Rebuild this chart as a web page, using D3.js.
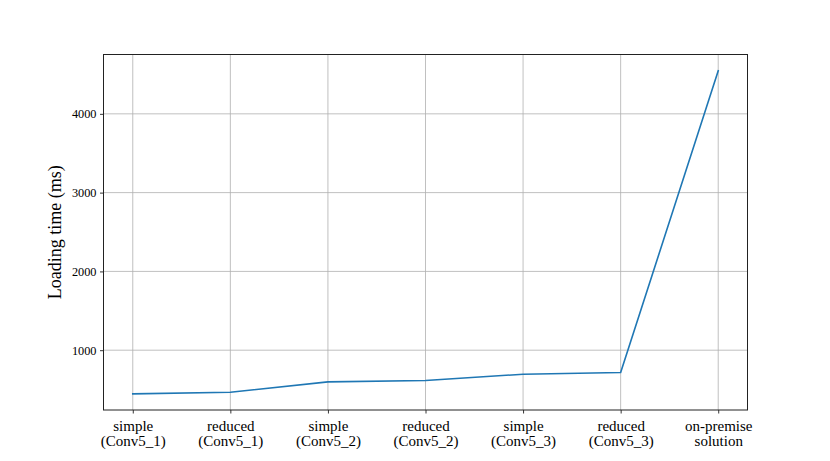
<!DOCTYPE html>
<html>
<head>
<meta charset="utf-8">
<style>
  body { margin: 0; background: #fff; }
  svg { display: block; font-family: "Liberation Serif", "DejaVu Serif", serif; }
</style>
</head>
<body>
<script src="https://d3js.org/d3.v7.min.js"></script>
<script>
var width = 830, height = 461;

// data
var categories = [
  ["simple", "(Conv5_1)"],
  ["reduced", "(Conv5_1)"],
  ["simple", "(Conv5_2)"],
  ["reduced", "(Conv5_2)"],
  ["simple", "(Conv5_3)"],
  ["reduced", "(Conv5_3)"],
  ["on-premise", "solution"]
];
var loadingTime = [446, 467, 598, 615, 695, 716, 4548];
var yTicks = [1000, 2000, 3000, 4000];

var margin = {left: 103.5, right: 830 - 747.5, top: 54.5, bottom: 461 - 410};
var pw = width - margin.left - margin.right;
var ph = height - margin.top - margin.bottom;

var svg = d3.select("body").append("svg")
  .attr("width", width)
  .attr("height", height);

var g = svg.append("g").attr("transform", "translate(" + margin.left + "," + margin.top + ")");

// matplotlib style 5% padding
var n = categories.length;
var x = d3.scaleLinear()
  .domain([-0.3, n - 1 + 0.3])
  .range([0, pw]);
var ymin = d3.min(loadingTime), ymax = d3.max(loadingTime);
var pad = (ymax - ymin) * 0.05;
var y = d3.scaleLinear()
  .domain([ymin - pad, ymax + pad])
  .range([ph, 0]);

// grid
g.append("g").selectAll("line").data(d3.range(n)).enter().append("line")
  .attr("x1", function(d){ return x(d); })
  .attr("x2", function(d){ return x(d); })
  .attr("y1", 0).attr("y2", ph)
  .attr("stroke", "#b0b0b0").attr("stroke-width", 0.8);
g.append("g").selectAll("line").data(yTicks).enter().append("line")
  .attr("y1", function(d){ return y(d); })
  .attr("y2", function(d){ return y(d); })
  .attr("x1", 0).attr("x2", pw)
  .attr("stroke", "#b0b0b0").attr("stroke-width", 0.8);

// line
var line = d3.line()
  .x(function(d, i){ return x(i); })
  .y(function(d){ return y(d); });
g.append("path")
  .datum(loadingTime)
  .attr("d", line)
  .attr("fill", "none")
  .attr("stroke", "#1f77b4")
  .attr("stroke-width", 1.6)
  .attr("stroke-linejoin", "round")
  .attr("stroke-linecap", "square");

// axes
var yAxis = d3.axisLeft(y).tickValues(yTicks).tickSize(3.5).tickPadding(3.5).tickFormat(d3.format("d"));
var ya = g.append("g").call(yAxis);
ya.select(".domain").remove();
ya.selectAll("line").attr("stroke", "#000").attr("stroke-width", 0.8);
ya.selectAll("text").attr("font-size", "12.3px").attr("font-family", "Liberation Serif").attr("fill", "#000");

var xAxis = d3.axisBottom(x).tickValues(d3.range(n)).tickSize(3.5).tickFormat("");
var xa = g.append("g").attr("transform", "translate(0," + ph + ")").call(xAxis);
xa.select(".domain").remove();
xa.selectAll("line").attr("stroke", "#000").attr("stroke-width", 0.8);
xa.selectAll(".tick").each(function(d){
  var t = d3.select(this).append("text")
    .attr("fill", "#000")
    .attr("font-size", "15px")
    .attr("font-family", "Liberation Serif")
    .attr("text-anchor", "middle");
  t.append("tspan").attr("x", 0).attr("y", 20.5).text(categories[d][0]);
  t.append("tspan").attr("x", 0).attr("y", 36).text(categories[d][1]);
});

// frame
g.append("rect")
  .attr("x", 0).attr("y", 0)
  .attr("width", pw).attr("height", ph)
  .attr("fill", "none")
  .attr("stroke", "#222")
  .attr("stroke-width", 1);

// y label
svg.append("text")
  .attr("transform", "translate(61," + (margin.top + ph / 2) + ") rotate(-90)")
  .attr("text-anchor", "middle")
  .attr("font-size", "18px")
  .attr("fill", "#000")
  .text("Loading time (ms)");
</script>
</body>
</html>
